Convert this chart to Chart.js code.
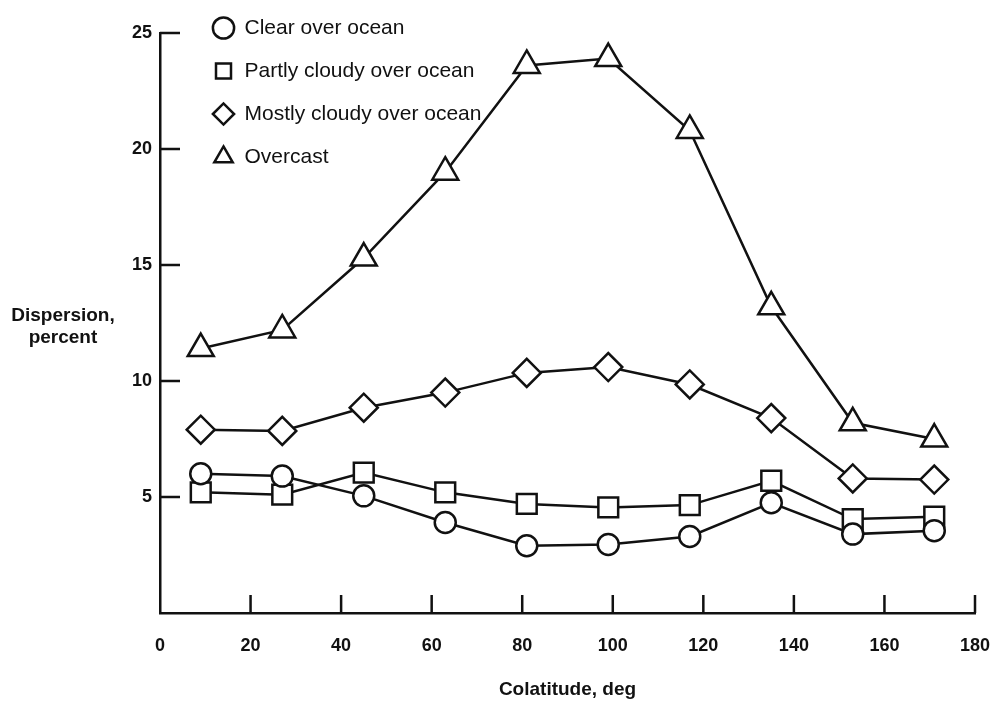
<!DOCTYPE html>
<html>
<head>
<meta charset="utf-8">
<script src="https://cdn.jsdelivr.net/npm/chart.js@4.4.1/dist/chart.umd.min.js"></script>
<style>
  html, body { margin: 0; padding: 0; background: #fff; }
  #wrap { position: relative; width: 997px; height: 713px; }
  #ytitle {
    position: absolute; left: 0; top: 304px; width: 126px;
    text-align: center; line-height: 24px; color: #111;
    font: bold 19px 'Liberation Sans', Arial, sans-serif;
  }
</style>
</head>
<body>
<div id="wrap">
  <canvas id="chart"></canvas>
  <div id="ytitle">Dispersion,<br>percent</div>
</div>
<script>
// colatitude bin centres, deg
const colatitude = [9, 27, 45, 63, 81, 99, 117, 135, 153, 171];

// dispersion, percent
const clearOcean   = [6.0, 5.9, 5.05, 3.9, 2.9, 2.95, 3.3, 4.75, 3.4, 3.55];
const partlyCloudy = [5.2, 5.1, 6.05, 5.2, 4.7, 4.55, 4.65, 5.7, 4.05, 4.15];
const mostlyCloudy = [7.9, 7.85, 8.85, 9.5, 10.35, 10.6, 9.85, 8.4, 5.8, 5.75];
const overcast     = [11.4, 12.2, 15.3, 19.0, 23.6, 23.9, 20.8, 13.2, 8.2, 7.5];

const xTickValues = [0, 20, 40, 60, 80, 100, 120, 140, 160, 180];
const yTickValues = [5, 10, 15, 20, 25];

const ink = '#111';
const font = "'Liberation Sans', Arial, sans-serif";

function toPoints(values) {
  return values.map((v, i) => ({ x: colatitude[i], y: v }));
}

function series(label, values, pointStyle, radius) {
  return {
    label,
    data: toPoints(values),
    borderColor: ink,
    backgroundColor: '#fff',
    borderWidth: 2.5,
    tension: 0,
    pointStyle,
    pointRadius: radius,
    pointBorderWidth: 2.5,
    pointBackgroundColor: '#fff',
    pointBorderColor: ink,
  };
}

// tick marks point into the plot, as in the original
const innerTicks = {
  id: 'innerTicks',
  beforeDatasetsDraw(chart) {
    const { ctx, chartArea, scales } = chart;
    ctx.save();
    ctx.strokeStyle = ink;
    ctx.lineWidth = 2.5;
    ctx.beginPath();
    yTickValues.forEach(v => {
      const y = scales.y.getPixelForValue(v);
      ctx.moveTo(chartArea.left, y);
      ctx.lineTo(chartArea.left + 20, y);
    });
    xTickValues.filter(v => v > 0).forEach(v => {
      const x = scales.x.getPixelForValue(v);
      ctx.moveTo(x, chartArea.bottom);
      ctx.lineTo(x, chartArea.bottom - 18);
    });
    ctx.stroke();
    ctx.restore();
  }
};

// move the legend into the upper left corner of the plot
const legendInside = {
  id: 'legendInside',
  afterLayout(chart) {
    const lg = chart.legend;
    lg.left = 191;
    lg.top = -4.5;
    lg.right = 760;
    lg.bottom = 320;
  }
};

new Chart(document.getElementById('chart'), {
  type: 'line',
  data: {
    datasets: [
      series('Clear over ocean', clearOcean, 'circle', 10.5),
      series('Partly cloudy over ocean', partlyCloudy, 'rect', 14),
      series('Mostly cloudy over ocean', mostlyCloudy, 'rectRot', 14),
      series('Overcast', overcast, 'triangle', 15),
    ],
  },
  options: {
    responsive: true,
    maintainAspectRatio: false,
    animation: false,
    layout: { padding: { top: 33, right: 22, bottom: 0, left: 0 } },
    plugins: {
      legend: {
        position: 'left',
        align: 'start',
        maxWidth: 1,
        labels: {
          usePointStyle: true,
          boxWidth: 21,
          boxHeight: 15,
          padding: 22,
          color: ink,
          font: { family: font, size: 21 },
        },
      },
      tooltip: { enabled: false },
    },
    scales: {
      x: {
        type: 'linear',
        min: 0,
        max: 180,
        afterBuildTicks: s => { s.ticks = xTickValues.map(v => ({ value: v })); },
        afterFit: s => { s.height = 100; },
        // grid lines hidden; tickLength only spaces the labels off the axis
        grid: { display: false, drawTicks: true, tickLength: 18 },
        border: { display: true, color: ink, width: 2.5 },
        ticks: { color: ink, padding: 4, maxRotation: 0, font: { family: font, size: 18, weight: 'bold' } },
        title: {
          display: true,
          text: 'Colatitude, deg',
          color: ink,
          padding: { top: 0, bottom: 12 },
          font: { family: font, size: 19, weight: 'bold' },
        },
      },
      y: {
        min: 0,
        max: 25,
        afterBuildTicks: s => { s.ticks = yTickValues.map(v => ({ value: v })); },
        afterFit: s => { s.width = 159; },
        grid: { display: false, drawTicks: false },
        border: { display: true, color: ink, width: 2.5 },
        ticks: { color: ink, padding: 8, font: { family: font, size: 18, weight: 'bold' } },
      },
    },
  },
  plugins: [innerTicks, legendInside],
});
</script>
</body>
</html>
